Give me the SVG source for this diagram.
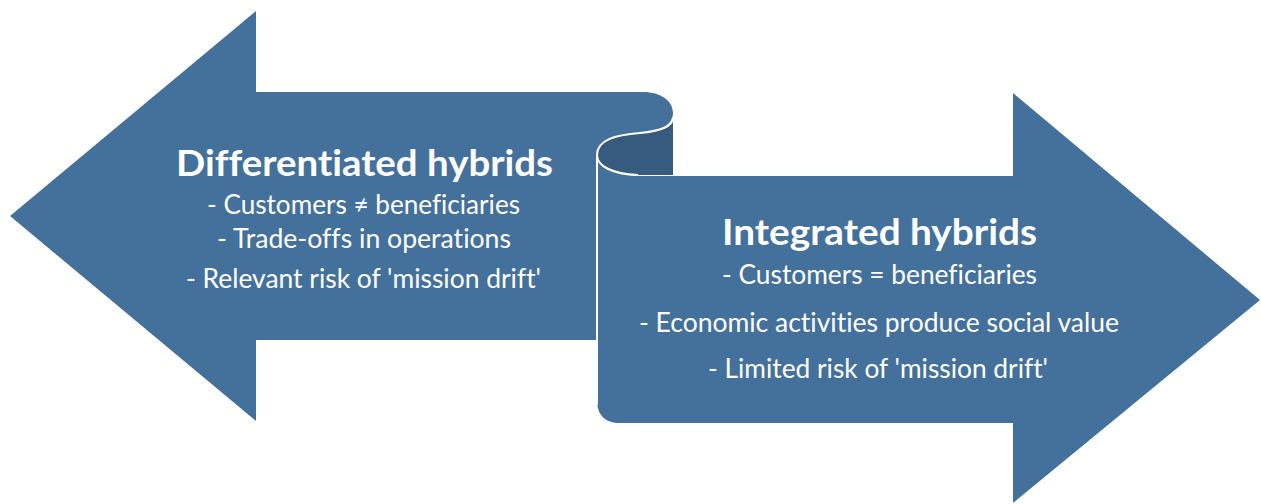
<svg xmlns="http://www.w3.org/2000/svg" width="1261" height="504" viewBox="0 0 1261 504">
<style>
.shape{fill:#44719C}
.dark{fill:#365B7F}
.edge{fill:none;stroke:#FFFFFF;stroke-width:2}
.t{font-family:Lato,"Open Sans",sans-serif;fill:#FFFFFF;text-anchor:middle;font-variant-ligatures:none;font-feature-settings:"liga" 0}
.h{font-size:37px;font-weight:bold}
.b{font-size:26px}
</style>
<rect width="1261" height="504" fill="#FFFFFF"/>
<g id="left-arrow">
<path class="shape" d="M10,216 L256,11 L256,92 L643,92 C661,92 673,101 673,113 C673,126 660,131 640,133 C615,135 597,140 597,155 L597,340 L256,340 L256,421 Z"/>
</g>
<g id="right-arrow">
<path class="shape" d="M597,155 C597,167 613,175 640,176 L1013,176 L1013,93 L1260,300 L1013,503 L1013,423 L620,423 C605,423 597,415 597,400 Z"/>
<path class="dark" d="M673,116 C673,126 660,131 640,133 C615,135 597,140 597,155 C597,167 613,174 640,175 L673,175 Z"/>
<path class="edge" d="M673,117 C673,127 660,131 640,133 C615,135 597,140 597,155 C597,166 612,174 638,175 M597,155 L597,405"/>
</g>
<g id="left-text">
<text class="t h" x="364.5" y="176" textLength="377" lengthAdjust="spacingAndGlyphs">Differentiated hybrids</text>
<text class="t b" x="363.5" y="214" textLength="313" lengthAdjust="spacingAndGlyphs">- Customers ≠ beneficiaries</text>
<text class="t b" x="364" y="248" textLength="294" lengthAdjust="spacingAndGlyphs">- Trade-offs in operations</text>
<text class="t b" x="363.5" y="288" textLength="355" lengthAdjust="spacingAndGlyphs">- Relevant risk of 'mission drift'</text>
</g>
<g id="right-text">
<text class="t h" x="879.5" y="245" textLength="315" lengthAdjust="spacingAndGlyphs">Integrated hybrids</text>
<text class="t b" x="879.5" y="284" textLength="315" lengthAdjust="spacingAndGlyphs">- Customers = beneficiaries</text>
<text class="t b" x="879" y="332" textLength="480" lengthAdjust="spacingAndGlyphs">- Economic activities produce social value</text>
<text class="t b" x="878" y="378" textLength="340" lengthAdjust="spacingAndGlyphs">- Limited risk of 'mission drift'</text>
</g>
</svg>
